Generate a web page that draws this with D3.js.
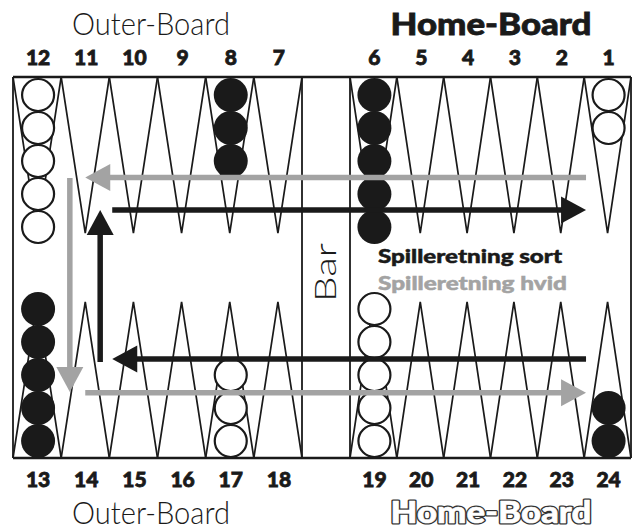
<!DOCTYPE html>
<html><head><meta charset="utf-8">
<script src="https://cdn.jsdelivr.net/npm/d3@7"></script>
<style>body{margin:0;background:#fff}</style></head>
<body><svg id="c" width="634" height="531"></svg>
<script>
// ---- data ----
const topLeft = [12, 11, 10, 9, 8, 7];
const topRight = [6, 5, 4, 3, 2, 1];
const botLeft = [13, 14, 15, 16, 17, 18];
const botRight = [19, 20, 21, 22, 23, 24];
const checkerPoints = [12, 8, 6, 1, 13, 17, 19, 24];
const checkerCounts = [5, 3, 5, 2, 5, 3, 5, 2];
const checkerColors = ["white", "black", "black", "white", "black", "white", "white", "black"];
const titleTop = ["Outer-Board", "Home-Board"];
const titleBottom = ["Outer-Board", "Home-Board"];
const legendLabels = ["Spilleretning sort", "Spilleretning hvid"];
const barLabel = "Bar";
// arrows: points in top numbering (fractional), frac = board height fraction
const arrowColor = ["gray", "gray", "gray", "black", "black", "black"];
const arrowFromP = [1.46, 11.32, 11.0, 10.44, 10.69, 1.46];
const arrowFromF = [0.264, 0.265, 0.829, 0.349, 0.748, 0.740];
const arrowToP = [11.0, 11.32, 1.46, 1.46, 10.69, 10.44];
const arrowToF = [0.264, 0.827, 0.829, 0.349, 0.349, 0.740];

// ---- layout ----
const BLACK = "#1a1a1a", GRAY = "#a3a3a3";
const svg = d3.select("#c");
const yTop = 77, yBot = 458, L0 = 13, L1 = 302, R0 = 350, R1 = 631;
const xTL = d3.scaleBand().domain(topLeft).range([L0, L1]);
const xTR = d3.scaleBand().domain(topRight).range([R0, R1]);
const xBL = d3.scaleBand().domain(botLeft).range([L0, L1]);
const xBR = d3.scaleBand().domain(botRight).range([R0, R1]);
const yF = d3.scaleLinear().domain([0, 1]).range([yTop, yBot]);
const contL = d3.scaleLinear().domain([12.5, 6.5]).range([L0, L1]);
const contR = d3.scaleLinear().domain([6.5, 0.5]).range([R0, R1]);
const xCont = p => p >= 6.5 ? contL(p) : contR(p);
const triFrac = 0.41;
const R = 16.5;

function bandFor(p) {
  if (topLeft.includes(p)) return [xTL, true];
  if (topRight.includes(p)) return [xTR, true];
  if (botLeft.includes(p)) return [xBL, false];
  return [xBR, false];
}

// triangles
const allPts = topLeft.concat(topRight, botLeft, botRight);
const gTri = svg.append("g");
allPts.forEach(p => {
  const [s, isTop] = bandFor(p);
  const x0 = s(p), x1 = s(p) + s.bandwidth(), xm = (x0 + x1) / 2;
  const yb = isTop ? yF(0) : yF(1);
  const yt = isTop ? yF(triFrac) : yF(1 - triFrac);
  gTri.append("path").attr("d", `M${x0},${yb}L${xm},${yt}L${x1},${yb}`)
    .attr("fill", "none").attr("stroke", BLACK).attr("stroke-width", 1.7).attr("stroke-linejoin", "miter");
});

// board frame
const gB = svg.append("g").attr("stroke", BLACK).attr("fill", "none");
gB.append("line").attr("x1", L0).attr("x2", R1).attr("y1", yTop).attr("y2", yTop).attr("stroke-width", 2.5);
gB.append("line").attr("x1", L0).attr("x2", R1).attr("y1", yBot).attr("y2", yBot).attr("stroke-width", 2.5);
[L0, L1, R0, R1].forEach(x => gB.append("line").attr("x1", x).attr("x2", x).attr("y1", yTop).attr("y2", yBot).attr("stroke-width", 1.8));

// checkers
const gC = svg.append("g");
checkerPoints.forEach((p, i) => {
  const [s, isTop] = bandFor(p);
  const cx = s(p) + s.bandwidth() / 2 + 1;
  for (let k = 0; k < checkerCounts[i]; k++) {
    const cy = isTop ? yTop + 1.5 + R + k * 2 * R : yBot - 0.5 - R - k * 2 * R;
    const black = checkerColors[i] === "black";
    gC.append("circle").attr("cx", cx).attr("cy", cy).attr("r", black ? R + 0.5 : R - 0.5)
      .attr("fill", black ? BLACK : "#fff").attr("stroke", black ? "none" : BLACK).attr("stroke-width", 2.2);
  }
});

// arrows
const gA = svg.append("g");
const headLen = 25, headHalf = 13.5, lw = 5.5;
arrowColor.forEach((c, i) => {
  const col = c === "gray" ? GRAY : BLACK;
  const x0 = xCont(arrowFromP[i]), y0 = yF(arrowFromF[i]);
  const x1 = xCont(arrowToP[i]), y1 = yF(arrowToF[i]);
  const dx = x1 - x0, dy = y1 - y0, len = Math.hypot(dx, dy);
  const ux = dx / len, uy = dy / len;
  const bx = x1 - ux * headLen, by = y1 - uy * headLen;
  gA.append("line").attr("x1", x0).attr("y1", y0).attr("x2", bx + ux * 2).attr("y2", by + uy * 2)
    .attr("stroke", col).attr("stroke-width", lw);
  gA.append("path").attr("d", `M${x1},${y1}L${bx - uy * headHalf},${by + ux * headHalf}L${bx + uy * headHalf},${by - ux * headHalf}Z`)
    .attr("fill", col);
});

// numbers
const FONT = "Lato, 'Open Sans', sans-serif";
function nums(arr, s, y) {
  svg.append("g").selectAll("text").data(arr).join("text")
    .attr("x", d => s(d) + s.bandwidth() / 2 + 1).attr("y", y)
    .attr("text-anchor", "middle").attr("font-family", FONT).attr("font-weight", 900)
    .attr("font-size", 21).attr("fill", BLACK).attr("stroke", BLACK).attr("stroke-width", 0.8).text(d => d);
}
nums(topLeft, xTL, 65); nums(topRight, xTR, 65);
nums(botLeft, xBL, 487); nums(botRight, xBR, 487);

// titles
svg.append("text").attr("x", 151).attr("y", 35).attr("text-anchor", "middle")
  .attr("font-family", FONT).attr("font-weight", 300).attr("font-size", 31)
  .attr("textLength", 158).attr("lengthAdjust", "spacingAndGlyphs").attr("fill", BLACK).text(titleTop[0]);
svg.append("text").attr("x", 491).attr("y", 35).attr("text-anchor", "middle")
  .attr("font-family", FONT).attr("font-weight", 900).attr("font-size", 31)
  .attr("textLength", 201).attr("lengthAdjust", "spacingAndGlyphs").attr("fill", BLACK)
  .attr("stroke", BLACK).attr("stroke-width", 0.8).text(titleTop[1]);
svg.append("text").attr("x", 151).attr("y", 524).attr("text-anchor", "middle")
  .attr("font-family", FONT).attr("font-weight", 300).attr("font-size", 31)
  .attr("textLength", 158).attr("lengthAdjust", "spacingAndGlyphs").attr("fill", BLACK).text(titleBottom[0]);
// outlined title: dark stroked layer, then white glyphs on top
[["#333", 3.2], ["#fff", 0.6]].forEach(([c, sw]) => {
  svg.append("text").attr("x", 491).attr("y", 523).attr("text-anchor", "middle")
    .attr("font-family", FONT).attr("font-weight", 900).attr("font-size", 31)
    .attr("textLength", 201).attr("lengthAdjust", "spacingAndGlyphs")
    .attr("fill", c).attr("stroke", c).attr("stroke-width", sw).attr("stroke-linejoin", "round")
    .text(titleBottom[1]);
});

// legend
svg.append("text").attr("x", 378).attr("y", 263).attr("font-family", FONT).attr("font-weight", 900)
  .attr("font-size", 19.5).attr("textLength", 184).attr("lengthAdjust", "spacingAndGlyphs")
  .attr("fill", BLACK).attr("stroke", BLACK).attr("stroke-width", 0.5).text(legendLabels[0]);
svg.append("text").attr("x", 378).attr("y", 290).attr("font-family", FONT).attr("font-weight", 900)
  .attr("font-size", 19.5).attr("textLength", 189).attr("lengthAdjust", "spacingAndGlyphs")
  .attr("fill", GRAY).attr("stroke", GRAY).attr("stroke-width", 0.5).text(legendLabels[1]);

// bar label
svg.append("text").attr("transform", "translate(336,302) rotate(-90)")
  .attr("font-family", FONT).attr("font-weight", 300).attr("font-size", 29)
  .attr("textLength", 59).attr("lengthAdjust", "spacingAndGlyphs")
  .attr("fill", BLACK).text(barLabel);
</script></body></html>
